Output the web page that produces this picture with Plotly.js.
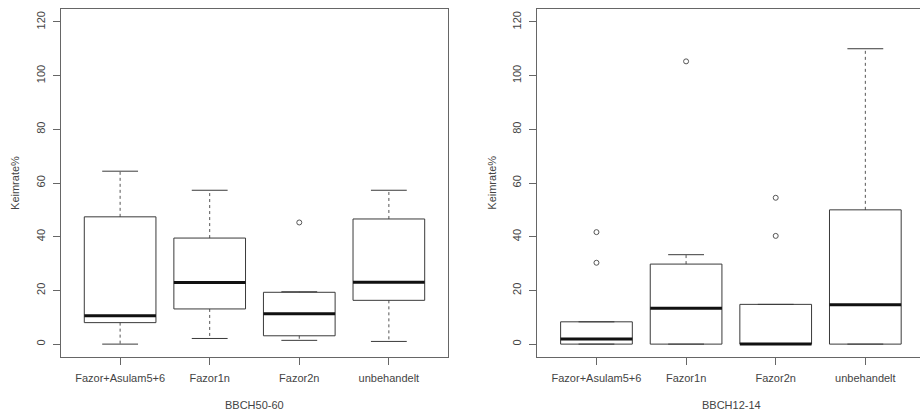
<!DOCTYPE html>
<html><head><meta charset="utf-8">
<script src="https://cdn.plot.ly/plotly-3.0.1.min.js"></script>
<style>html,body{margin:0;padding:0;background:#fff}</style>
</head><body>
<div id="chart" style="width:920px;height:412px"></div>
<script>
const groups = ["Fazor+Asulam5+6", "Fazor1n", "Fazor2n", "unbehandelt"];
const yTicks = [0, 20, 40, 60, 80, 100, 120];

// Panel A: BBCH50-60
const aLowW = [0, 2.1, 1.4, 1.0];
const aQ1   = [8.0, 13.1, 3.1, 16.3];
const aMed  = [10.6, 22.9, 11.3, 23.0];
const aQ3   = [47.4, 39.5, 19.3, 46.6];
const aUpW  = [64.4, 57.3, 19.5, 57.3];
const aOutG = [3];          // group number (1-based) of each outlier
const aOutV = [45.3];

// Panel B: BBCH12-14
const bLowW = [0, 0, 0, 0];
const bQ1   = [0, 0, 0, 0];
const bMed  = [1.9, 13.4, 0, 14.7];
const bQ3   = [8.3, 29.8, 14.8, 50.0];
const bUpW  = [8.3, 33.3, 14.8, 110.0];
const bOutG = [1, 1, 2, 3, 3];
const bOutV = [41.7, 30.3, 105.3, 54.5, 40.3];

const BOXW = 0.4, CAPW = 0.2;
const boxCol = '#3a3a3a';

function panel(xa, ya, low, q1, med, q3, up, og, ov) {
  const bx = [], by = [], wx = [], wy = [], cx = [], cy = [], mx = [], my = [];
  for (let i = 0; i < groups.length; i++) {
    const c = i + 1;
    bx.push(c - BOXW, c + BOXW, c + BOXW, c - BOXW, c - BOXW, null);
    by.push(q1[i], q1[i], q3[i], q3[i], q1[i], null);
    wx.push(c, c, null, c, c, null);
    wy.push(q3[i], up[i], null, q1[i], low[i], null);
    cx.push(c - CAPW, c + CAPW, null, c - CAPW, c + CAPW, null);
    cy.push(up[i], up[i], null, low[i], low[i], null);
    mx.push(c - BOXW, c + BOXW, null);
    my.push(med[i], med[i], null);
  }
  const common = {xaxis: xa, yaxis: ya, mode: 'lines', hoverinfo: 'skip', showlegend: false};
  return [
    Object.assign({x: wx, y: wy, line: {color: '#555', width: 1, dash: '3px,3px'}}, common),
    Object.assign({x: cx, y: cy, line: {color: boxCol, width: 1}}, common),
    Object.assign({x: bx, y: by, line: {color: boxCol, width: 1}}, common),
    Object.assign({x: mx, y: my, line: {color: '#111', width: 3}}, common),
    {x: og, y: ov, xaxis: xa, yaxis: ya, mode: 'markers', showlegend: false,
     hoverinfo: 'skip', marker: {symbol: 'circle-open', size: 5, color: '#555', line: {width: 1}}}
  ];
}

const data = [].concat(
  panel('x', 'y', aLowW, aQ1, aMed, aQ3, aUpW, aOutG, aOutV),
  panel('x2', 'y2', bLowW, bQ1, bMed, bQ3, bUpW, bOutG, bOutV)
);

const fnt = {family: '"Liberation Sans", Arial, sans-serif', size: 11, color: '#444'};
const xax = {
  tickvals: [1, 2, 3, 4], ticktext: groups, ticks: 'outside', ticklen: 7, tickcolor: '#666',
  showline: true, linecolor: '#666', linewidth: 1, mirror: true, showgrid: false, zeroline: false,
  tickfont: fnt, fixedrange: true, ticklabelstandoff: 4
};
const yax = {
  range: [-4.8, 124.8], tickvals: yTicks, ticktext: yTicks.map(String), ticks: 'outside', ticklen: 7,
  tickcolor: '#666', showline: true, linecolor: '#666', linewidth: 1, showgrid: false, zeroline: false,
  tickangle: -90, tickfont: fnt, fixedrange: true, ticklabelstandoff: 4
};

const layout = {
  width: 920, height: 412,
  margin: {l: 61, r: 0, t: 9, b: 55},
  paper_bgcolor: '#fff', plot_bgcolor: '#fff',
  font: fnt,
  xaxis: Object.assign({}, xax, {domain: [0, 0.4505], range: [0.34, 4.66], anchor: 'y'}),
  yaxis: Object.assign({}, yax, {domain: [0, 1], anchor: 'x', mirror: true}),
  xaxis2: Object.assign({}, xax, {domain: [0.5545, 1], range: [0.34, 4.61], anchor: 'y2'}),
  yaxis2: Object.assign({}, yax, {domain: [0, 1], anchor: 'x2', mirror: false}),
  annotations: [
    {text: 'Keimrate%', xref: 'paper', yref: 'paper', x: -0.0536, y: 0.5, textangle: -90,
     showarrow: false, xanchor: 'center', yanchor: 'middle', font: fnt},
    {text: 'Keimrate%', xref: 'paper', yref: 'paper', x: 0.5014, y: 0.5, textangle: -90,
     showarrow: false, xanchor: 'center', yanchor: 'middle', font: fnt},
    {text: 'BBCH50-60', xref: 'paper', yref: 'paper', x: 0.2253, y: -0.138,
     showarrow: false, xanchor: 'center', yanchor: 'middle', font: fnt},
    {text: 'BBCH12-14', xref: 'paper', yref: 'paper', x: 0.7808, y: -0.138,
     showarrow: false, xanchor: 'center', yanchor: 'middle', font: fnt}
  ]
};

Plotly.newPlot('chart', data, layout, {displayModeBar: false, staticPlot: true});
</script>
</body></html>
